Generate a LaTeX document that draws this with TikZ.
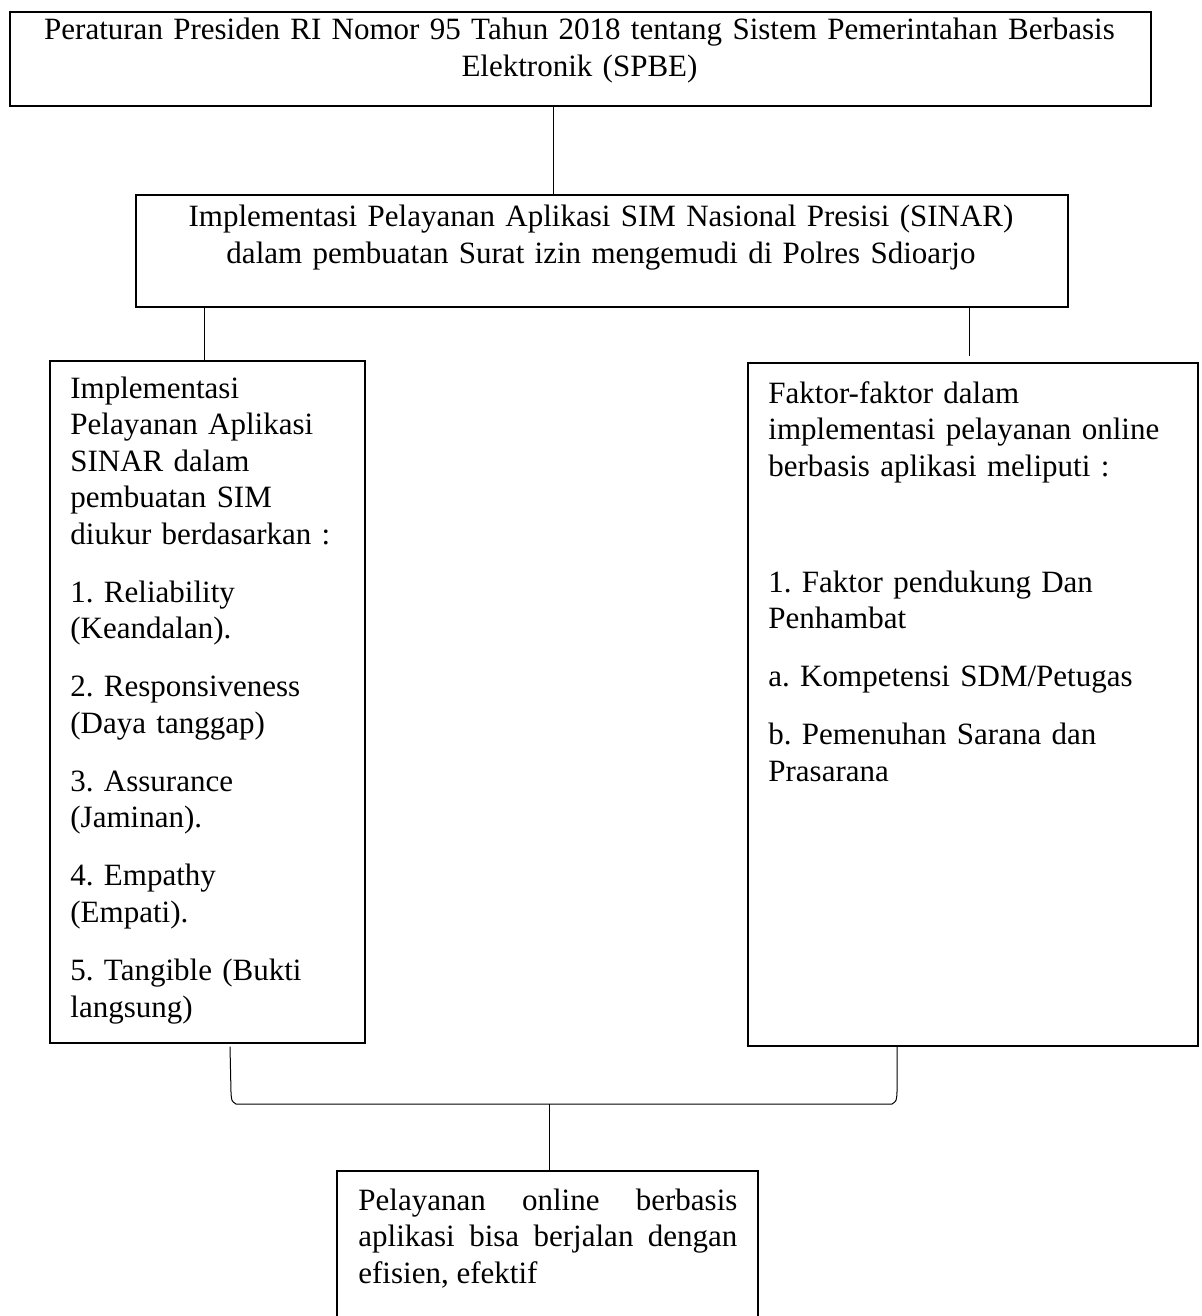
\documentclass[tikz,border=0pt]{standalone}
\usepackage{fontspec}
\setmainfont{Liberation Serif}
\begin{document}
\frenchspacing
\begin{tikzpicture}[x=0.5pt,y=-0.5pt,
  box/.style={draw,line width=0.8pt,inner sep=0pt,anchor=north west},
  txt/.style={inner sep=0pt,font=\fontsize{15.5pt}{18.25pt}\selectfont\frenchspacing},
  conn/.style={line width=0.5pt}]
\useasboundingbox (0,0) rectangle (1201,1316);
% boxes
\node[box,minimum width=570.5pt,minimum height=47pt] (top) at (9,11) {};
\node[box,minimum width=466pt,minimum height=56pt] (b2) at (135,194) {};
\node[box,minimum width=157.5pt,minimum height=341pt] (L) at (49,360) {};
\node[box,minimum width=225pt,minimum height=341.5pt] (R) at (747,362) {};
\node[inner sep=0pt,anchor=north west,minimum width=210pt,minimum height=72.5pt] (bot) at (337,1171) {};
\draw[line width=0.8pt] (bot.south west) -- (bot.north west) -- (bot.north east) -- (bot.south east);
% texts
\node[txt,anchor=base,text width=550pt,align=center] (ttop) at (579.5,40)
  {Peraturan Presiden RI Nomor 95 Tahun 2018 tentang Sistem Pemerintahan Berbasis\\ Elektronik (SPBE)};
\node[txt,anchor=base,text width=460pt,align=center] (tb2) at (601,227)
  {Implementasi Pelayanan Aplikasi SIM Nasional Presisi (SINAR)\\ dalam pembuatan Surat izin mengemudi di Polres Sdioarjo};
\node[txt,anchor=base west,text width=145pt,align=left] (tL) at (70,398)
  {Implementasi\\ Pelayanan Aplikasi\\ SINAR dalam\\ pembuatan SIM\\ diukur berdasarkan :\\[10.8pt]
   1. Reliability\\ (Keandalan).\\[10.8pt]
   2. Responsiveness\\ (Daya tanggap)\\[10.8pt]
   3. Assurance\\ (Jaminan).\\[10.8pt]
   4. Empathy\\ (Empati).\\[10.8pt]
   5. Tangible (Bukti\\ langsung)};
\node[txt,anchor=base west,text width=210pt,align=left] (tR) at (768,403)
  {Faktor-faktor dalam\\ implementasi pelayanan online\\ berbasis aplikasi meliputi :\\[39.85pt]
   1. Faktor pendukung Dan\\ Penhambat\\[10.8pt]
   a. Kompetensi SDM/Petugas\\[10.8pt]
   b. Pemenuhan Sarana dan\\ Prasarana};
\node[txt,anchor=base west,text width=189.5pt,align=justify] (tbot) at (358,1210)
  {Pelayanan online berbasis\linebreak aplikasi bisa berjalan dengan\linebreak efisien, efektif};
% connector helpers
\coordinate (x553) at (553,0);
\coordinate (x204) at (204,0);
\coordinate (x969) at (969,0);
\coordinate (x230) at (230,0);
\coordinate (x897) at (897,0);
\coordinate (x549) at (549,0);
\coordinate (rEnd) at (969,356);
\coordinate (jn) at (549,1104);
% connectors
\draw[conn] (top.south -| x553) -- (b2.north -| x553);
\draw[conn] (b2.south -| x204) -- (L.north -| x204);
\draw[conn] (b2.south -| x969) -- (rEnd);
\draw[conn] ([yshift=-1.5pt]L.south -| x230) -- (231,1092) .. controls (231.5,1101) .. (236,1104)
  -- (892,1104) .. controls (896.5,1101) .. (897,1092) -- (R.south -| x897);
\draw[conn] (jn) -- (bot.north -| x549);
\end{tikzpicture}
\end{document}
